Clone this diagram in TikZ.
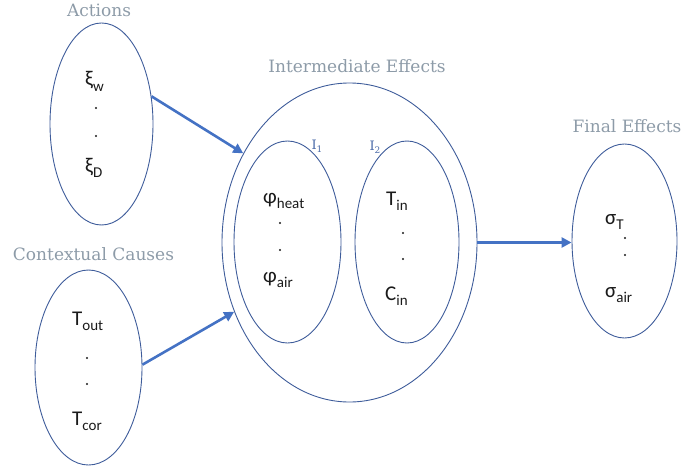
\documentclass[tikz,border=0pt]{standalone}
\usepackage{fontspec}
\setmainfont{Carlito}
\newfontfamily\labelfont{DejaVu Serif}
\usetikzlibrary{shapes.geometric,arrows.meta}
\definecolor{ellcol}{HTML}{3E5C9A}
\definecolor{arrcol}{HTML}{4472C4}
\definecolor{labcol}{HTML}{8D9BA8}
\definecolor{idxcol}{HTML}{4A6AA8}
\definecolor{txtcol}{HTML}{1A1A1A}
\newcommand\lsub[1]{\raisebox{-0.28em}{\fontsize{15}{15}\selectfont #1}}
\newcommand\isub[1]{\raisebox{-0.25em}{\fontsize{9}{9}\selectfont #1}}
\begin{document}
\begin{tikzpicture}[x=1pt,y=-1pt,
  ell/.style={draw=ellcol, line width=0.9pt, ellipse, inner sep=0pt},
  var/.style={text=txtcol, font=\fontsize{21}{21}\selectfont, inner sep=0pt, anchor=base west},
  grp/.style={text=labcol, font=\labelfont\fontsize{17}{17}\selectfont, inner sep=0pt},
  idx/.style={text=idxcol, font=\labelfont\fontsize{13}{13}\selectfont, inner sep=0pt},
  flow/.style={draw=arrcol, line width=2.6pt, -{Triangle[length=10pt,width=10pt]}, shorten >=0pt},
  dotc/.style={fill=txtcol}
]
\useasboundingbox (0,0) rectangle (684,473);

% ellipses
\node[ell, minimum width=103pt, minimum height=202pt] (act) at (101.5,124) {};
\node[ell, minimum width=107pt, minimum height=195pt] (ctx) at (88.5,367.5) {};
\node[ell, minimum width=255pt, minimum height=319pt] (inter) at (349.5,242.5) {};
\node[ell, minimum width=107pt, minimum height=202pt] (ione) at (287.5,242) {};
\node[ell, minimum width=104pt, minimum height=202pt] (itwo) at (407,242) {};
\node[ell, minimum width=105pt, minimum height=194pt] (fin) at (624.5,241) {};

% group labels
\node[grp] (lact) at (99,10) {Actions};
\node[grp] (lctx) at (93.5,254) {Contextual Causes};
\node[grp] (linter) at (357,66) {Intermediate Effects};
\node[grp] (lfin) at (627,126) {Final Effects};
\node[idx] (lione) at (317,146) {I\isub{1}};
\node[idx] (litwo) at (375,147) {I\isub{2}};

% variables
\node[var] (xiw) at (85,86) {ξ\lsub{w}};
\node[var] (xid) at (85,172) {ξ\lsub{D}};
\node[var] (tout) at (72,325) {T\lsub{out}};
\node[var] (tcor) at (72,425) {T\lsub{cor}};
\node[var] (phih) at (263,203) {φ\lsub{heat}};
\node[var] (phia) at (263,282) {φ\lsub{air}};
\node[var] (tin) at (386,205) {T\lsub{in}};
\node[var] (cin) at (385,300) {C\lsub{in}};
\node[var] (sigt) at (605,224) {σ\lsub{T}};
\node[var] (siga) at (605,297) {σ\lsub{air}};

% dots
\foreach \p in {(96,108),(96,136),(87,358),(87,384),(280,223),(280,250),(403,233),(403,259),(625,238),(625,255)}
  \fill[dotc] \p circle (1.1);

% connectors
\draw[flow] (act.29) -- (inter.140);
\draw[flow] (ctx.3) -- (inter.211);
\draw[flow] (inter.east) -- (inter.east -| fin.west);
\end{tikzpicture}
\end{document}
